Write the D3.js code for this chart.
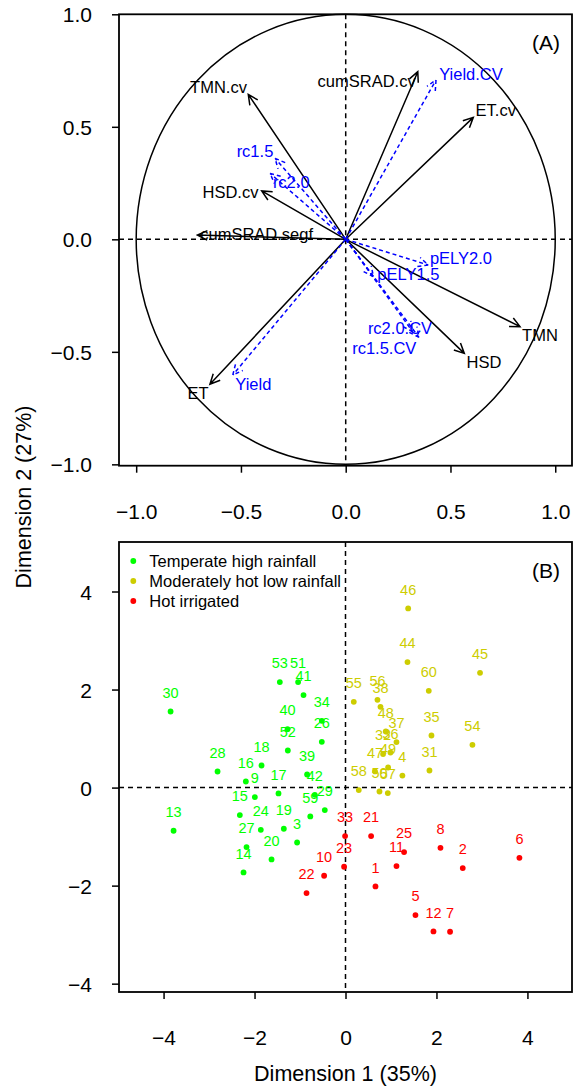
<html>
<head>
  <meta charset="utf-8">
  <script src="https://d3js.org/d3.v7.min.js"></script>
  <style>
    body { margin: 0; background: #fff; }
    text { font-family: "Liberation Sans", Arial, sans-serif; }
  </style>
</head>
<body>
<svg id="fig" width="573" height="1086"></svg>
<script>

// ---- (A) active variables (black arrows)
const actNames = ["TMN.cv", "cumSRAD.cv", "ET.cv", "HSD.cv", "cumSRAD.segf", "TMN", "HSD", "ET"];
const actX     = [-0.465, 0.344, 0.609, -0.401, -0.708, 0.832, 0.566, -0.648];
const actY     = [0.644, 0.745, 0.542, 0.215, 0.019, -0.388, -0.507, -0.644];
const actLabX  = [-0.607, 0.100, 0.716, -0.550, -0.425, 0.927, 0.660, -0.705];
const actLabY  = [0.677, 0.704, 0.575, 0.212, 0.024, -0.425, -0.544, -0.684];

// ---- (A) supplementary variables (blue dashed arrows)
const supNames = ["Yield.CV", "rc1.5", "rc2.0", "pELY2.0", "pELY1.5", "rc2.0.CV", "rc1.5.CV", "Yield"];
const supX     = [0.431, -0.337, -0.361, 0.394, 0.132, 0.320, 0.350, -0.539];
const supY     = [0.708, 0.360, 0.293, -0.114, -0.166, -0.411, -0.436, -0.603];
const supLabX  = [0.598, -0.433, -0.260, 0.550, 0.299, 0.259, 0.184, -0.441];
const supLabY  = [0.735, 0.394, 0.256, -0.082, -0.156, -0.396, -0.482, -0.644];

// ---- (B) sites
const groups = ["Temperate high rainfall", "Moderately hot low rainfall", "Hot irrigated"];
const groupColours = ["#00ff00", "#cdcd00", "#ff0000"];

const siteIds = [30, 53, 51, 41, 34, 26, 40, 52, 18, 28, 16, 39, 9, 17, 42, 29, 59, 15, 13, 24, 19, 3, 27, 20, 14,
                 46, 44, 45, 60, 55, 56, 38, 48, 37, 35, 54, 32, 36, 49, 47, 4, 31, 58, 50, 57,
                 33, 23, 10, 22, 21, 25, 8, 6, 11, 2, 1, 5, 12, 7];
const siteX = [-3.846, -1.444, -1.042, -0.923, -0.521, -0.521, -1.275, -1.268, -1.846, -2.813, -2.191, -0.844, -1.993,
               -1.473, -0.675, -0.455, -0.774, -2.323, -3.780, -1.862, -1.356, -1.064, -2.176, -1.626, -2.242,
               1.378, 1.363, 2.958, 1.831, 0.182, 0.703, 0.769, 0.886, 1.121, 1.890, 2.791, 0.826, 0.989, 0.937,
               0.650, 1.251, 1.846, 0.292, 0.747, 0.930,
               -0.009, -0.031, -0.470, -0.857, 0.563, 1.288, 2.088, 3.824, 1.121, 2.578, 0.659, 1.538, 1.934, 2.299];
const siteY = [1.552, 2.152, 2.152, 1.887, 1.362, 0.934, 1.192, 0.757, 0.451, 0.328, 0.124, 0.267, -0.194,
               -0.120, -0.147, -0.459, -0.589, -0.561, -0.881, -0.861, -0.840, -1.120, -1.214, -1.466, -1.731,
               3.655, 2.560, 2.342, 1.974, 1.750, 1.791, 1.648, 1.144, 0.928, 1.063, 0.873, 0.683, 0.716, 0.410,
               0.330, 0.245, 0.349, -0.051, -0.080, -0.112,
               -0.989, -1.615, -1.799, -2.152, -0.989, -1.316, -1.228, -1.432, -1.601, -1.642, -2.017, -2.600, -2.935, -2.941];
const siteGroup = [0,0,0,0,0,0,0,0,0,0,0,0,0,0,0,0,0,0,0,0,0,0,0,0,0,
                   1,1,1,1,1,1,1,1,1,1,1,1,1,1,1,1,1,1,1,1,
                   2,2,2,2,2,2,2,2,2,2,2,2,2,2];

const ticksA = [-1, -0.5, 0, 0.5, 1];
const ticksB = [-4, -2, 0, 2, 4];

// ----------------------------------------------------------------
const svg = d3.select("#fig");
const L = 119, R = 572;

const xA = d3.scaleLinear().domain([-1.082, 1.08]).range([L, R]);
const yA = d3.scaleLinear().domain([-1.006, 1]).range([465.7, 14.3]);
const xB = d3.scaleLinear().domain([-4.98, 4.98]).range([L, R]);
const yB = d3.scaleLinear().domain([-4.17, 5.01]).range([992, 542]);

const fmtA = d3.format(".1f");
const fmtB = d3.format("d");

function drawAxes(x, y, ticks, fmt) {
  const top = y.range()[1], bottom = y.range()[0];
  const ax = svg.append("g").attr("transform", "translate(0," + bottom + ")")
                .call(d3.axisBottom(x).tickValues(ticks).tickFormat(fmt).tickSize(7).tickPadding(31));
  const ay = svg.append("g").attr("transform", "translate(" + L + ",0)")
                .call(d3.axisLeft(y).tickValues(ticks).tickFormat(fmt).tickSize(7).tickPadding(20));
  [ax, ay].forEach(g => {
    g.select(".domain").remove();
    g.selectAll("line").attr("stroke", "#000").attr("stroke-width", 1.5);
    g.selectAll("text").attr("font-size", 21).attr("fill", "#000")
     .style("font-family", '"Liberation Sans", Arial, sans-serif');
  });
  ay.selectAll("text").attr("dy", "0.36em");
  // zero lines
  svg.append("line").attr("x1", x(0)).attr("x2", x(0)).attr("y1", top).attr("y2", bottom)
     .attr("stroke", "#000").attr("stroke-width", 1.5).attr("stroke-dasharray", "5,4");
  svg.append("line").attr("x1", L).attr("x2", R).attr("y1", y(0)).attr("y2", y(0))
     .attr("stroke", "#000").attr("stroke-width", 1.5).attr("stroke-dasharray", "5,4");
  // box
  svg.append("rect").attr("x", L).attr("y", top).attr("width", R - L).attr("height", bottom - top)
     .attr("fill", "none").attr("stroke", "#000").attr("stroke-width", 1.8);
}

// arrow with open V head
function arrowPath(x0, y0, x1, y1) {
  const a = Math.atan2(y1 - y0, x1 - x0), len = 11, spread = Math.PI / 7;
  const hx1 = x1 - len * Math.cos(a - spread), hy1 = y1 - len * Math.sin(a - spread);
  const hx2 = x1 - len * Math.cos(a + spread), hy2 = y1 - len * Math.sin(a + spread);
  return "M" + x0 + "," + y0 + "L" + x1 + "," + y1 +
         "M" + hx1 + "," + hy1 + "L" + x1 + "," + y1 + "L" + hx2 + "," + hy2;
}

// ---------------- panel A
drawAxes(xA, yA, ticksA, fmtA);

svg.append("ellipse").attr("cx", xA(0)).attr("cy", yA(0))
   .attr("rx", xA(1) - xA(0)).attr("ry", yA(0) - yA(1))
   .attr("fill", "none").attr("stroke", "#000").attr("stroke-width", 1.5);

const actIdx = d3.range(actNames.length);
svg.append("g").selectAll("path").data(actIdx).join("path")
   .attr("d", i => arrowPath(xA(0), yA(0), xA(actX[i]), yA(actY[i])))
   .attr("fill", "none").attr("stroke", "#000").attr("stroke-width", 1.5);
svg.append("g").selectAll("text").data(actIdx).join("text")
   .attr("x", i => xA(actLabX[i])).attr("y", i => yA(actLabY[i]))
   .attr("dy", "0.36em").attr("text-anchor", "middle").attr("font-size", 16.5)
   .text(i => actNames[i]);

const supIdx = d3.range(supNames.length);
svg.append("g").selectAll("path").data(supIdx).join("path")
   .attr("d", i => arrowPath(xA(0), yA(0), xA(supX[i]), yA(supY[i])))
   .attr("fill", "none").attr("stroke", "#0000ff").attr("stroke-width", 1.5)
   .attr("stroke-dasharray", "4,3");
svg.append("g").selectAll("text").data(supIdx).join("text")
   .attr("x", i => xA(supLabX[i])).attr("y", i => yA(supLabY[i]))
   .attr("dy", "0.36em").attr("text-anchor", "middle").attr("font-size", 16.5)
   .attr("fill", "#0000ff")
   .text(i => supNames[i]);

svg.append("text").attr("x", 546).attr("y", 42.7).attr("dy", "0.36em")
   .attr("text-anchor", "middle").attr("font-size", 21).text("(A)");

// ---------------- panel B
drawAxes(xB, yB, ticksB, fmtB);

const siteIdx = d3.range(siteIds.length);
svg.append("g").selectAll("circle").data(siteIdx).join("circle")
   .attr("cx", i => xB(siteX[i])).attr("cy", i => yB(siteY[i])).attr("r", 2.9)
   .attr("fill", i => groupColours[siteGroup[i]]);
svg.append("g").selectAll("text").data(siteIdx).join("text")
   .attr("x", i => xB(siteX[i])).attr("y", i => yB(siteY[i]) - 19)
   .attr("dy", "0.36em").attr("text-anchor", "middle").attr("font-size", 14.5)
   .attr("fill", i => groupColours[siteGroup[i]])
   .text(i => siteIds[i]);

// legend
const legend = svg.append("g").selectAll("g").data(groups).join("g")
                  .attr("transform", (d, i) => "translate(133.3," + (561 + i * 20) + ")");
legend.append("circle").attr("r", 2.9).attr("fill", (d, i) => groupColours[i]);
legend.append("text").attr("x", 16).attr("dy", "0.36em").attr("font-size", 16.5).text(d => d);

svg.append("text").attr("x", 546).attr("y", 570).attr("dy", "0.36em")
   .attr("text-anchor", "middle").attr("font-size", 21).text("(B)");

// axis titles
svg.append("text").attr("transform", "translate(23,497) rotate(-90)").attr("dy", "0.36em")
   .attr("text-anchor", "middle").attr("font-size", 21.5).text("Dimension 2 (27%)");
svg.append("text").attr("x", xB(0)).attr("y", 1073).attr("dy", "0.36em")
   .attr("text-anchor", "middle").attr("font-size", 21.5).text("Dimension 1 (35%)");

</script>
</body>
</html>
